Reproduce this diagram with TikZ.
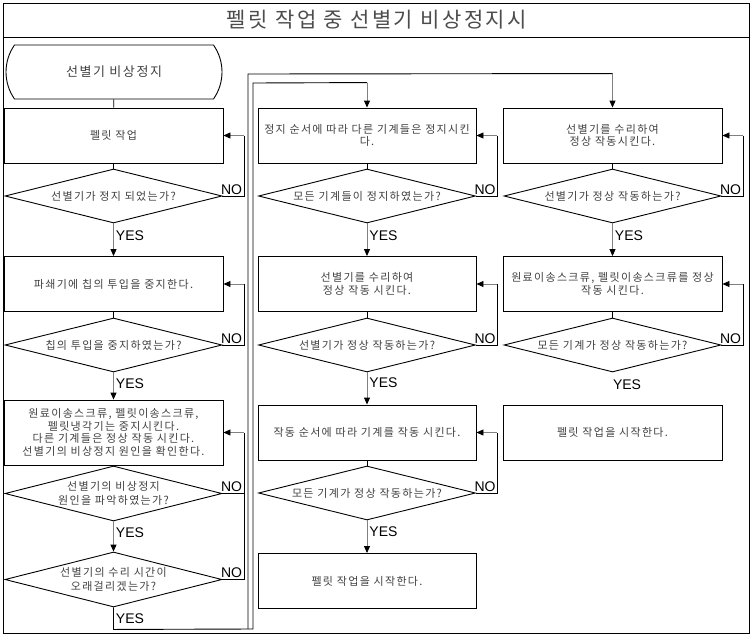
\documentclass[tikz,border=0pt]{standalone}
\usepackage{fontspec}
\setmainfont{Noto Sans CJK KR}[LetterSpace=12]
\newfontfamily\yesno{Liberation Sans}
\usetikzlibrary{arrows.meta}
\usetikzlibrary{shapes.geometric}
\usetikzlibrary{shapes.misc}
\tikzset{bx/.style={draw, rectangle, minimum width=219pt, minimum height=55pt, inner sep=1pt, align=center, text=black!75, font=\fontsize{11}{12.5}\selectfont}}
\tikzset{dc/.style={draw, diamond, shape aspect=4, minimum width=217pt, minimum height=54pt, inner sep=0pt, align=center, text=black!75, font=\fontsize{11}{14}\selectfont}}
\tikzset{yn/.style={font=\yesno\fontsize{14}{14}\selectfont, inner sep=2pt}}
\tikzset{no/.style={yn, anchor=south east, inner sep=1pt}}
\tikzset{g/.style={draw=black!50}}

\begin{document}
\begin{tikzpicture}[x=1pt, y=-1pt, line width=0.9pt, >={Triangle[length=7pt,width=6pt,color=black]}]
          \useasboundingbox (0,0) rectangle (754,637);
          \draw (3,3) rectangle (749,633);
          \draw (3,37) -- (749,37);
          \node[font=\fontsize{21}{21}\selectfont, text=black!70] (title) at (377,20) {펠릿 작업 중 선별기 비상정지시};
          \node[bx, font=\fontsize{13}{13}\selectfont, rounded rectangle, rounded rectangle arc length=70, minimum width=218pt, minimum height=54pt] (start) at (114,72) {선별기 비상정지};
          \node[bx] (l1) at (113.5,135.5) {펠릿 작업}
            edge (start);
          \node[dc] (ld1) at (113.5,196) {선별기가 정지 되었는가?}
            edge (l1);
          \node[bx] (l2) at (113.5,284) {파쇄기에 칩의 투입을 중지한다.}
            edge [<-, g] node [yn, right, pos=0.62] (y1) {YES} (ld1);
          \node[dc] (ld2) at (113.5,345) {칩의 투입을 중지하였는가?}
            edge (l2);
          \node[bx, minimum height=65pt] (l3) at (113.5,432.5) {원료이송스크류, 펠릿이송스크류,\\펠릿냉각기는 중지시킨다.\\다른 기계들은 정상 작동 시킨다.\\선별기의 비상정지 원인을 확인한다.}
            edge [<-, g] node [yn, right, pos=0.6] (y2) {YES} (ld2);
          \node[dc, minimum height=55pt] (ld3) at (113.5,493.5) {선별기의 비상정지\\원인을 파악하였는가?}
            edge (l3);
          \node[dc, minimum height=55pt] (ld4) at (113.5,579.5) {선별기의 수리 시간이\\오래걸리겠는가?}
            edge [<-, g] node [yn, right, pos=0.63] (y3) {YES} (ld3);
          \draw (ld1.east) -| ([xshift=21pt]l1.east) edge [->, g] (l1.east);
          \draw (ld2.east) -| ([xshift=21pt]l2.east) edge [->, g] (l2.east);
          \draw (ld3.east) -| ([xshift=21pt]l3.east) edge [->, g] (l3.east);
          \draw (ld4.east) -| ([xshift=21pt]l3.east);
          \node[no] (n1) at ([xshift=21pt]ld1.east) {NO};
          \node[no] (n2) at ([xshift=21pt]ld2.east) {NO};
          \node[no] (n3) at ([xshift=21pt]ld3.east) {NO};
          \node[no] (n4) at ([xshift=21pt]ld4.east) {NO};
          \node[bx, minimum width=218pt] (m1) at (367,135.5) {정지 순서에 따라 다른 기계들은 정지시킨\\다.};
          \node[dc] (md1) at (367,196) {모든 기계들이 정지하였는가?}
            edge (m1);
          \node[bx, minimum width=218pt] (m2) at (367,284) {선별기를 수리하여\\정상 작동 시킨다.}
            edge [<-, g] node [yn, right, pos=0.62] (y5) {YES} (md1);
          \node[dc] (md2) at (367,345) {선별기가 정상 작동하는가?}
            edge (m2);
          \node[bx, minimum width=218pt] (m3) at (367,432.5) {작동 순서에 따라 기계를 작동 시킨다.}
            edge [<-, g] node [yn, right, pos=0.67] (y6) {YES} (md2);
          \node[dc] (md3) at (367,493) {모든 기계가 정상 작동하는가?}
            edge (m3);
          \node[bx, minimum width=218pt] (m4) at (367,581) {펠릿 작업을 시작한다.}
            edge [<-, g] node [yn, right, pos=0.65] (y7) {YES} (md3);
          \draw (md1.east) -| ([xshift=21pt]m1.east) edge [->, g] (m1.east);
          \draw (md2.east) -| ([xshift=21pt]m2.east) edge [->, g] (m2.east);
          \draw (md3.east) -| ([xshift=21pt]m3.east) edge [->, g] (m3.east);
          \node[no] (n5) at ([xshift=21pt]md1.east) {NO};
          \node[no] (n6) at ([xshift=21pt]md2.east) {NO};
          \node[no] (n7) at ([xshift=21pt]md3.east) {NO};
          \node[bx] (r1) at (612.5,135.5) {선별기를 수리하여\\정상 작동시킨다.};
          \node[dc] (rd1) at (612.5,196) {선별기가 정상 작동하는가?}
            edge (r1);
          \node[bx] (r2) at (612.5,284) {원료이송스크류, 펠릿이송스크류를 정상\\작동 시킨다.}
            edge [<-, g] node [yn, right, pos=0.62] (y8) {YES} (rd1);
          \node[dc] (rd2) at (612.5,345) {모든 기계가 정상 작동하는가?}
            edge (r2);
          \node[yn] (y9) at (627,385) {YES};
          \node[bx] (r3) at (612.5,432.5) {펠릿 작업을 시작한다.};
          \draw (rd1.east) -| ([xshift=21pt]r1.east) edge [->, g] (r1.east);
          \draw (rd2.east) -| ([xshift=21pt]r2.east) edge [->, g] (r2.east);
          \node[no] (n8) at ([xshift=21pt]rd1.east) {NO};
          \node[no] (n9) at ([xshift=21pt]rd2.east) {NO};
          \draw (ld4.south) -- node [yn, right, pos=0.5] (y4) {YES} ++(0,22) -- (253,629) -- (253,83) -- ([yshift=25pt]m1.north) edge [->, g] (m1.north);
          \draw (248,629) -- (248,74) -- ([yshift=34pt]r1.north) edge [->, g] (r1.north);
        \end{tikzpicture}
\end{document}
